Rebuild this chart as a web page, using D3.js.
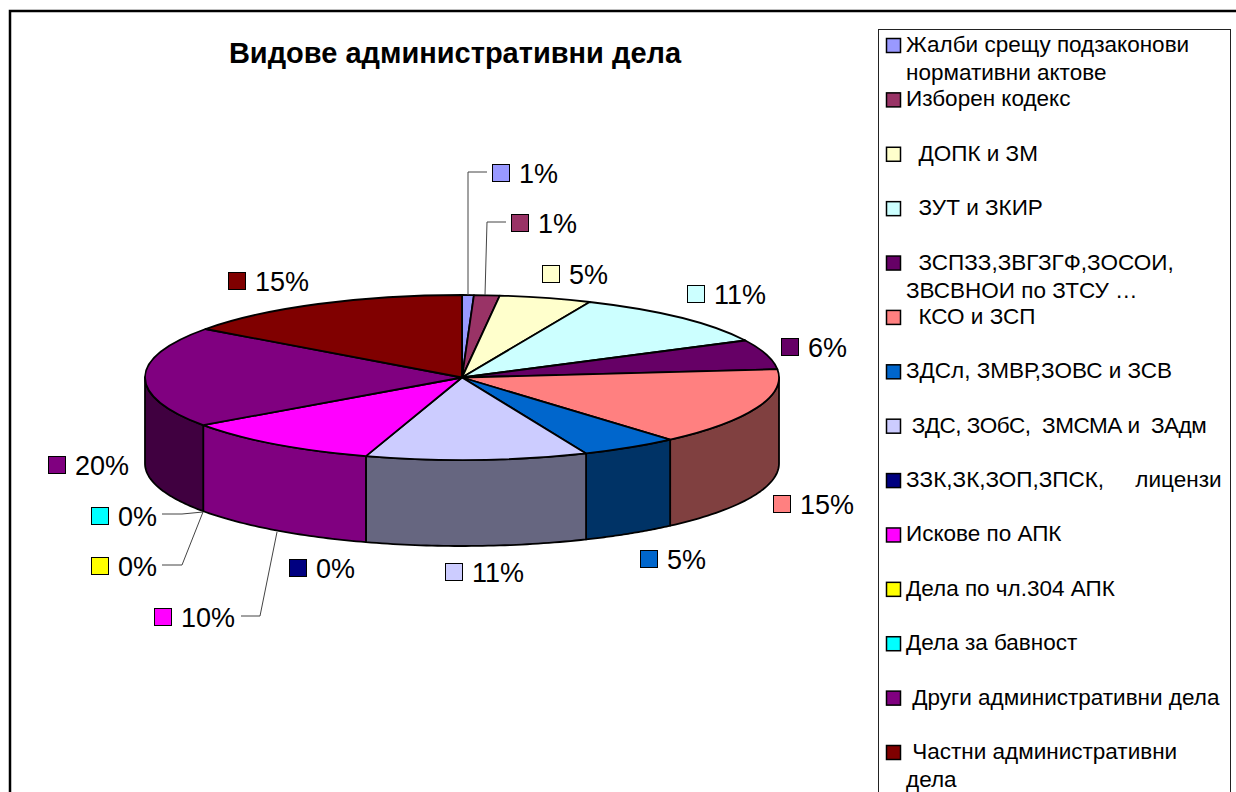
<!DOCTYPE html>
<html lang="bg">
<head>
<meta charset="utf-8">
<title>Видове административни дела</title>
<script src="https://cdn.jsdelivr.net/npm/d3@7"></script>
<style>
  html, body { margin: 0; background: #fff; }
  svg { display: block; font-family: "Liberation Sans", Arial, sans-serif; }
  .legend-text { font-size: 22.5px; white-space: pre; }
  .pct { font-size: 27px; }
  .title { font-size: 29px; font-weight: bold; }
</style>
</head>
<body>
<div id="plot"></div>
<script>
const chartTitle = "Видове административни дела";

const categories = [
  ["Жалби срещу подзаконови", "нормативни актове"],
  ["Изборен кодекс"],
  ["  ДОПК и ЗМ"],
  ["  ЗУТ и ЗКИР"],
  ["  ЗСПЗЗ,ЗВГЗГФ,ЗОСОИ,", "ЗВСВНОИ по ЗТСУ …"],
  ["  КСО и ЗСП"],
  ["ЗДСл, ЗМВР,ЗОВС и ЗСВ"],
  [" ЗДС, ЗОбС,  ЗМСМА и  ЗАдм"],
  ["ЗЗК,ЗК,ЗОП,ЗПСК,     лицензи"],
  ["Искове по АПК"],
  ["Дела по чл.304 АПК"],
  ["Дела за бавност"],
  [" Други административни дела"],
  [" Частни административни", "дела"]
];

// read off the slice edges, so they do not add up to round numbers
const values = [0.6, 1.3, 4.7, 11, 5.8, 15.2, 5, 11.3, 0, 10.3, 0, 0, 19.8, 15];

const colors = ["#9999ff", "#993366", "#ffffcc", "#ccffff", "#660066", "#ff8080", "#0066cc",
  "#ccccff", "#000080", "#ff00ff", "#ffff00", "#00ffff", "#800080", "#800000"];

// where excel left each data label: left edge of the key, vertical centre
const labelX = [492, 511, 542, 687, 781, 773, 640, 445, 289, 154, 91, 91, 48, 228];
const labelY = [173, 223, 274, 294, 347, 504, 559, 572, 568, 617, 566, 516, 465, 281];

// leader lines, only the labels that were dragged away from their slice have one
const leaders = [
  [[487, 172], [468, 172], [468, 295]],
  [[506, 222], [487, 222], [485, 295]],
  [[162, 514], [182, 514], [203, 512]],
  [[162, 565], [182, 565], [203, 512]],
  [[241, 616], [260, 616], [277, 532]]
];

const w = 1236;
const h = 792;
const cx = 462;
const cy = 377.5;
const rx = 317;
const ry = 82.5;
const depth = 86;

const svg = d3.select("#plot").append("svg")
  .attr("width", w)
  .attr("height", h);

const color = d3.scaleOrdinal().domain(d3.range(values.length)).range(colors);
const percent = d3.format(".0%");
const total = d3.sum(values);

const slices = d3.pie().sort(null).value(d => d)(values);
slices.forEach((s, i) => { s.idx = i; });

// frame
svg.append("path")
  .attr("d", `M10,${h}V11H${w}`)
  .attr("fill", "none")
  .attr("stroke", "#000")
  .attr("stroke-width", 2.5);

svg.append("text")
  .attr("class", "title")
  .attr("x", 455)
  .attr("y", 63)
  .attr("text-anchor", "middle")
  .text(chartTitle);

//-----------------pie walls-----------------------
const rim = a => [cx + rx * Math.sin(a), cy - ry * Math.cos(a)];
const line = d3.line();

function wallPath(a0, a1) {
  const steps = d3.range(0, 41).map(k => a0 + (a1 - a0) * k / 40);
  const top = steps.map(rim);
  const bottom = top.map(p => [p[0], p[1] + depth]).reverse();
  return line(top.concat(bottom)) + "Z";
}

function halfTone(c) {
  const q = d3.rgb(c);
  return d3.rgb(q.r / 2, q.g / 2, q.b / 2).formatHex();
}

const front = slices
  .filter(s => s.value > 0 && s.endAngle > Math.PI / 2 && s.startAngle < Math.PI * 1.5)
  .map(s => ({
    idx: s.idx,
    a0: Math.max(s.startAngle, Math.PI / 2),
    a1: Math.min(s.endAngle, Math.PI * 1.5)
  }));

svg.append("g").selectAll("path")
  .data(front)
  .enter()
  .append("path")
    .attr("d", d => wallPath(d.a0, d.a1))
    .attr("fill", d => halfTone(color(d.idx)))
    .attr("stroke", "#000")
    .attr("stroke-width", 1.8)
    .attr("stroke-linejoin", "round");

//-----------------pie top-----------------------
const arc = d3.arc().innerRadius(0).outerRadius(rx);

svg.append("g")
  .attr("transform", `translate(${cx},${cy}) scale(1,${ry / rx})`)
  .selectAll("path")
  .data(slices.filter(s => s.value > 0))
  .enter()
  .append("path")
    .attr("d", arc)
    .attr("fill", d => color(d.idx))
    .attr("stroke", "#000")
    .attr("stroke-width", 1.8)
    .attr("stroke-linejoin", "round")
    .attr("vector-effect", "non-scaling-stroke");

//-----------------data labels-----------------------
svg.append("g").selectAll("path")
  .data(leaders)
  .enter()
  .append("path")
    .attr("d", line)
    .attr("fill", "none")
    .attr("stroke", "#444")
    .attr("stroke-width", 1);

const pct = svg.append("g").selectAll("g")
  .data(slices)
  .enter()
  .append("g")
    .attr("transform", (d, i) => `translate(${labelX[i]},${labelY[i]})`);

pct.append("rect")
  .attr("x", 0.5)
  .attr("y", -8.5)
  .attr("width", 17)
  .attr("height", 17)
  .attr("fill", d => color(d.idx))
  .attr("stroke", "#000");

pct.append("text")
  .attr("class", "pct")
  .attr("x", 27)
  .attr("y", 10)
  .text(d => percent(d.value / total));

//-----------------legend-----------------------
svg.append("rect")
  .attr("x", 878.5)
  .attr("y", 29.5)
  .attr("width", 352)
  .attr("height", 800)
  .attr("fill", "none")
  .attr("stroke", "#222");

const legendY = d3.scalePoint()
  .domain(d3.range(categories.length))
  .range([45, 752]);

const row = svg.append("g").selectAll("g")
  .data(categories)
  .enter()
  .append("g")
    .attr("transform", (d, i) => `translate(886,${legendY(i)})`);

row.append("rect")
  .attr("x", 0.5)
  .attr("y", -6.5)
  .attr("width", 14)
  .attr("height", 14)
  .attr("fill", (d, i) => color(i))
  .attr("stroke", "#000")
  .attr("stroke-width", 1.5);

row.each(function(lines, i) {
  d3.select(this).selectAll("text")
    .data(lines)
    .enter()
    .append("text")
      .attr("class", "legend-text")
      .attr("x", 20)
      .attr("y", (d, k) => 7 + k * 28)
      .attr("letter-spacing", i === 7 ? -0.5 : null) // this row sits tighter in the original
      .text(d => d);
});
</script>
</body>
</html>
